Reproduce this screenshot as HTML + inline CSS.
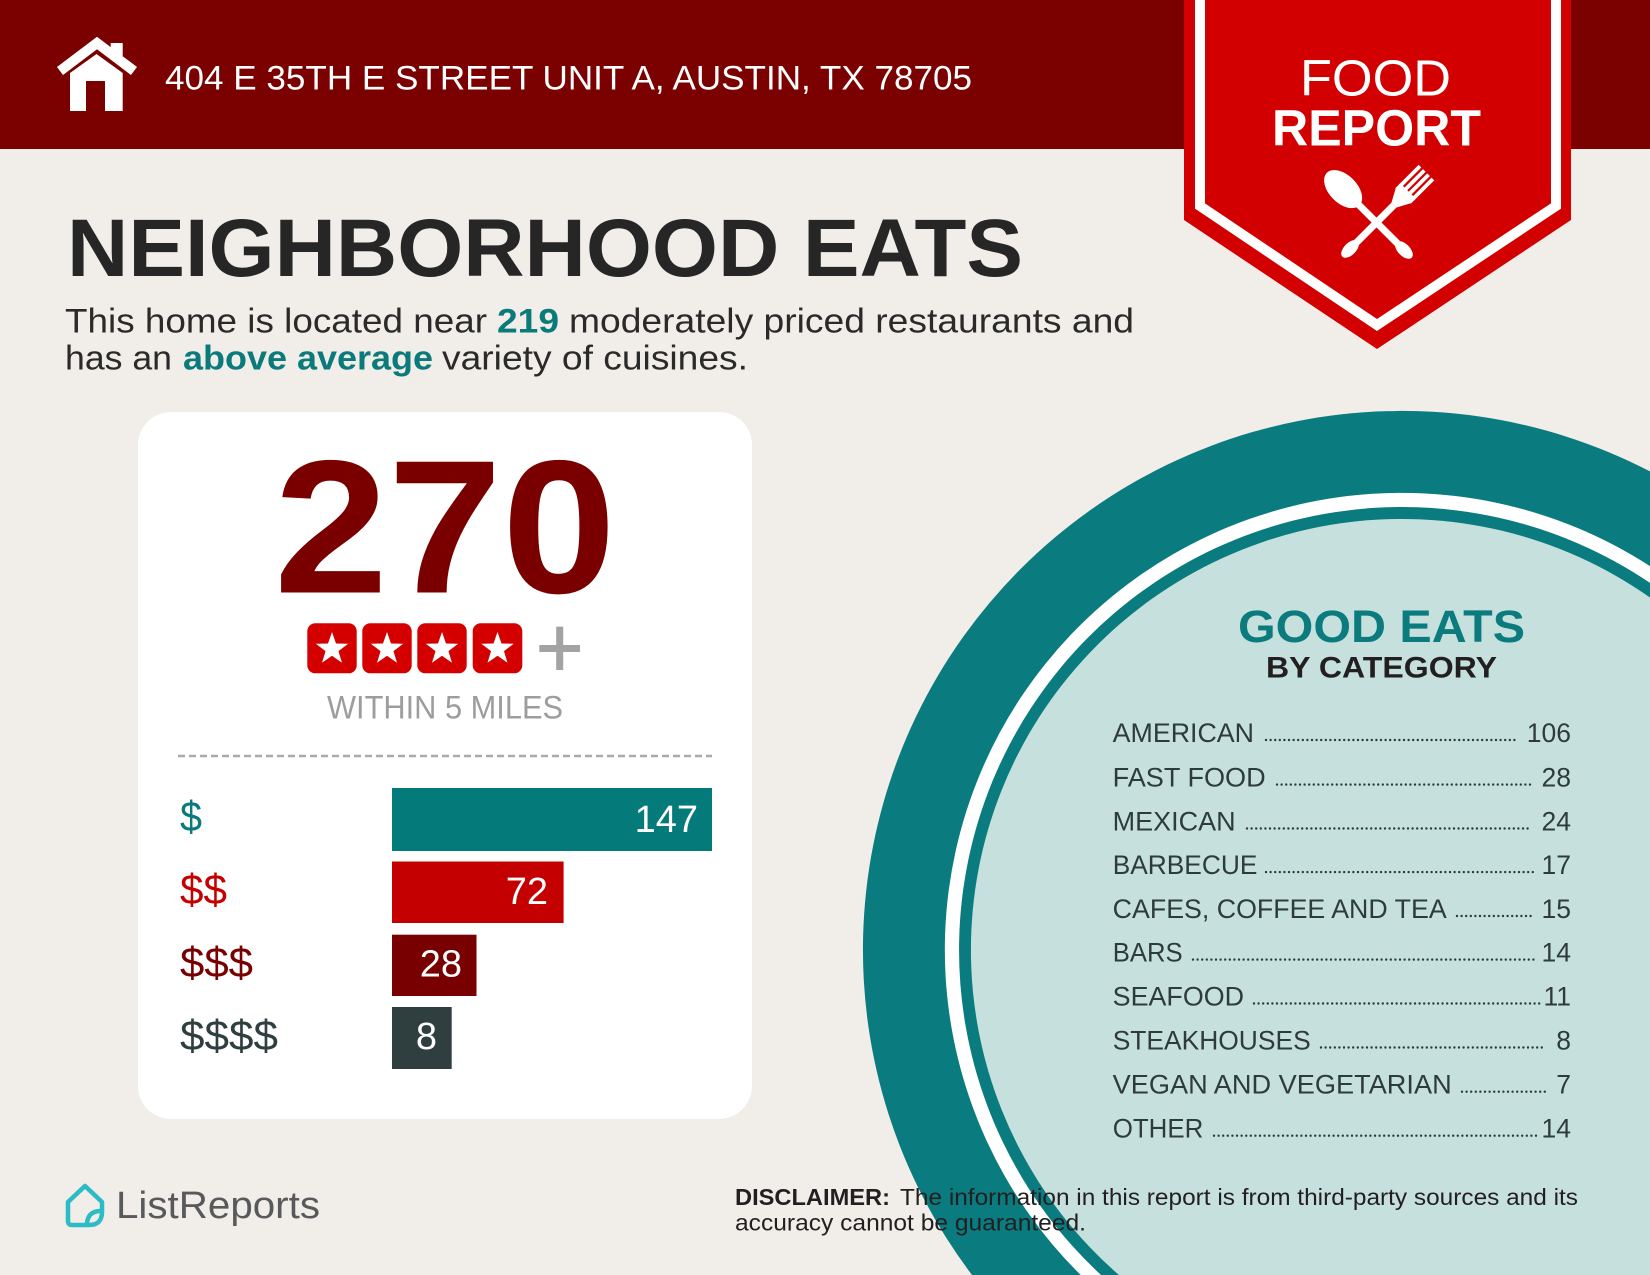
<!DOCTYPE html>
<html>
<head>
<meta charset="utf-8">
<style>
html,body{margin:0;padding:0;background:#f1ede9;width:1650px;height:1275px;overflow:hidden;}
svg{display:block;}
text{font-family:"Liberation Sans",sans-serif;}
</style>
</head>
<body>
<svg width="1650" height="1275" viewBox="0 0 1650 1275" xmlns="http://www.w3.org/2000/svg">
  <rect x="0" y="0" width="1650" height="1275" fill="#f1ede9"/>
  <!-- header band -->
  <rect x="0" y="0" width="1650" height="149" fill="#7b0000"/>
  <!-- house icon -->
  <polyline points="60,71 97,43 134,71" fill="none" stroke="#ffffff" stroke-width="10"/>
  <rect x="110.7" y="43" width="12" height="17" fill="#ffffff"/>
  <polygon points="70,111 70,73 96.5,54 122.7,73 122.7,111" fill="#ffffff"/>
  <rect x="86" y="81" width="19" height="30" fill="#7b0000"/>
  <text x="165" y="89.3" font-size="34" fill="#ffffff" textLength="807" lengthAdjust="spacingAndGlyphs">404 E 35TH E STREET UNIT A, AUSTIN, TX 78705</text>

  <!-- ribbon -->
  <polygon points="1184,0 1571,0 1571,220 1377,349 1184,220" fill="#d20000"/>
  <polyline points="1200,0 1200,206 1377,325 1556,206 1556,0" fill="none" stroke="#ffffff" stroke-width="10"/>
  <text x="1300" y="95.7" font-size="51" fill="#ffffff" textLength="151" lengthAdjust="spacingAndGlyphs">FOOD</text>
  <text x="1272" y="145.7" font-size="51" font-weight="bold" fill="#ffffff" textLength="209" lengthAdjust="spacingAndGlyphs">REPORT</text>
  <!-- fork -->
  <g transform="translate(1343,256) rotate(45)" fill="#ffffff">
    <rect x="-3.5" y="-72" width="7" height="64"/>
    <ellipse cx="0" cy="-10" rx="6" ry="11"/>
    <polygon points="-3.5,-72 3.5,-72 11,-86 -11,-86"/>
    <rect x="-11" y="-92" width="22" height="7"/>
    <rect x="-11" y="-118" width="3.8" height="28"/>
    <rect x="-4.9" y="-118" width="3.8" height="28"/>
    <rect x="1.1" y="-118" width="3.8" height="28"/>
    <rect x="7.2" y="-118" width="3.8" height="28"/>
  </g>
  <!-- spoon -->
  <g transform="translate(1411,257) rotate(-45)" fill="#ffffff">
    <rect x="-3.5" y="-74" width="7" height="66"/>
    <ellipse cx="0" cy="-10" rx="6" ry="11"/>
    <ellipse cx="0" cy="-96" rx="14" ry="23"/>
  </g>

  <!-- heading -->
  <text x="67" y="276" font-size="82" font-weight="bold" fill="#262626" textLength="956" lengthAdjust="spacingAndGlyphs">NEIGHBORHOOD EATS</text>
  <text x="65" y="332.7" font-size="34" fill="#2a2a2a" textLength="422" lengthAdjust="spacingAndGlyphs">This home is located near</text>
  <text x="497" y="332.7" font-size="34" font-weight="bold" fill="#0b7a7b" textLength="62" lengthAdjust="spacingAndGlyphs">219</text>
  <text x="569" y="332.7" font-size="34" fill="#2a2a2a" textLength="565" lengthAdjust="spacingAndGlyphs">moderately priced restaurants and</text>
  <text x="65" y="369.3" font-size="34" fill="#2a2a2a" textLength="107" lengthAdjust="spacingAndGlyphs">has an</text>
  <text x="183" y="369.3" font-size="34" font-weight="bold" fill="#0b7a7b" textLength="250" lengthAdjust="spacingAndGlyphs">above average</text>
  <text x="442" y="369.3" font-size="34" fill="#2a2a2a" textLength="306" lengthAdjust="spacingAndGlyphs">variety of cuisines.</text>

  <!-- card -->
  <rect x="138" y="412" width="614" height="707" rx="33" ry="33" fill="#ffffff"/>
  <text x="274" y="592.5" font-size="190" font-weight="bold" fill="#7a0000" textLength="342" lengthAdjust="spacingAndGlyphs">270</text>
  <!-- stars -->
  <g fill="#d40000">
    <rect x="307.3" y="623.3" width="49.4" height="50" rx="8"/>
    <rect x="362.3" y="623.3" width="49.4" height="50" rx="8"/>
    <rect x="417.3" y="623.3" width="49.4" height="50" rx="8"/>
    <rect x="472.7" y="623.3" width="49.6" height="50" rx="8"/>
  </g>
  <g fill="#ffffff">
    <path transform="translate(332,649)" d="M0,-17 L4,-5.5 L16.17,-5.25 L6.47,2.1 L9.99,13.75 L0,6.8 L-9.99,13.75 L-6.47,2.1 L-16.17,-5.25 L-4,-5.5 Z"/>
    <path transform="translate(387,649)" d="M0,-17 L4,-5.5 L16.17,-5.25 L6.47,2.1 L9.99,13.75 L0,6.8 L-9.99,13.75 L-6.47,2.1 L-16.17,-5.25 L-4,-5.5 Z"/>
    <path transform="translate(442,649)" d="M0,-17 L4,-5.5 L16.17,-5.25 L6.47,2.1 L9.99,13.75 L0,6.8 L-9.99,13.75 L-6.47,2.1 L-16.17,-5.25 L-4,-5.5 Z"/>
    <path transform="translate(497.5,649)" d="M0,-17 L4,-5.5 L16.17,-5.25 L6.47,2.1 L9.99,13.75 L0,6.8 L-9.99,13.75 L-6.47,2.1 L-16.17,-5.25 L-4,-5.5 Z"/>
  </g>
  <rect x="539.3" y="645" width="40.7" height="7" fill="#a3a3a3"/>
  <rect x="556.2" y="626.7" width="7" height="43.3" fill="#a3a3a3"/>
  <text x="327" y="718.5" font-size="32" fill="#9d9d9d" textLength="236" lengthAdjust="spacingAndGlyphs">WITHIN 5 MILES</text>
  <line x1="178" y1="756" x2="712" y2="756" stroke="#aaaaaa" stroke-width="2.5" stroke-dasharray="7 4"/>

  <!-- bars -->
  <rect x="392" y="788" width="320" height="63" fill="#047a7b"/>
  <rect x="392" y="861.5" width="171.6" height="61.5" fill="#c50000"/>
  <rect x="392" y="934.7" width="84.5" height="61.3" fill="#780000"/>
  <rect x="392" y="1007" width="59.7" height="62" fill="#2f3e3e"/>
  <text x="180" y="831" font-size="43" fill="#0b7a7b" textLength="22" lengthAdjust="spacingAndGlyphs">$</text>
  <text x="180" y="904" font-size="43" fill="#c50000" textLength="47" lengthAdjust="spacingAndGlyphs">$$</text>
  <text x="180" y="977" font-size="43" fill="#780000" textLength="73" lengthAdjust="spacingAndGlyphs">$$$</text>
  <text x="180" y="1050" font-size="43" fill="#2f3e3e" textLength="98" lengthAdjust="spacingAndGlyphs">$$$$</text>
  <text x="698" y="832" font-size="38" fill="#ffffff" text-anchor="end">147</text>
  <text x="548" y="904" font-size="38" fill="#ffffff" text-anchor="end">72</text>
  <text x="462" y="976.7" font-size="38" fill="#ffffff" text-anchor="end">28</text>
  <text x="437" y="1049" font-size="38" fill="#ffffff" text-anchor="end">8</text>

  <!-- circle (clipped to frame as paths) -->
  <path d="M972,1275 A539,539 0 0 1 1650,471.4 L1650,1275 Z" fill="#0a7b7e"/>
  <path d="M1080.7,1275 A457,457 0 0 1 1650,566.1 L1650,1275 Z" fill="#ffffff"/>
  <path d="M1101,1275 A443,443 0 0 1 1650,582.9 L1650,1275 Z" fill="#0a7b7e"/>
  <path d="M1118.9,1275 A431,431 0 0 1 1650,597.5 L1650,1275 Z" fill="#c6e0de"/>

  <text x="1238" y="641.8" font-size="45" font-weight="bold" fill="#0b7b7d" textLength="287" lengthAdjust="spacingAndGlyphs">GOOD EATS</text>
  <text x="1266" y="677.5" font-size="30" font-weight="bold" fill="#231f20" textLength="231" lengthAdjust="spacingAndGlyphs">BY CATEGORY</text>

  <g font-size="26.5" fill="#2e3b3b">
    <text x="1112.7" y="741.8" textLength="141.3" lengthAdjust="spacingAndGlyphs">AMERICAN</text>
    <text x="1112.7" y="786.4" textLength="153" lengthAdjust="spacingAndGlyphs">FAST FOOD</text>
    <text x="1112.7" y="830.3" textLength="123" lengthAdjust="spacingAndGlyphs">MEXICAN</text>
    <text x="1112.7" y="873.9" textLength="144.7" lengthAdjust="spacingAndGlyphs">BARBECUE</text>
    <text x="1112.7" y="917.8" textLength="334" lengthAdjust="spacingAndGlyphs">CAFES, COFFEE AND TEA</text>
    <text x="1112.7" y="961.4" textLength="70" lengthAdjust="spacingAndGlyphs">BARS</text>
    <text x="1112.7" y="1005.3" textLength="131.3" lengthAdjust="spacingAndGlyphs">SEAFOOD</text>
    <text x="1112.7" y="1049.3" textLength="198" lengthAdjust="spacingAndGlyphs">STEAKHOUSES</text>
    <text x="1112.7" y="1093.5" textLength="339" lengthAdjust="spacingAndGlyphs">VEGAN AND VEGETARIAN</text>
    <text x="1112.7" y="1137.5" textLength="90.7" lengthAdjust="spacingAndGlyphs">OTHER</text>
    <text x="1571" y="741.8" text-anchor="end">106</text>
    <text x="1571" y="786.4" text-anchor="end">28</text>
    <text x="1571" y="830.3" text-anchor="end">24</text>
    <text x="1571" y="873.9" text-anchor="end">17</text>
    <text x="1571" y="917.8" text-anchor="end">15</text>
    <text x="1571" y="961.4" text-anchor="end">14</text>
    <text x="1571" y="1005.3" text-anchor="end">11</text>
    <text x="1571" y="1049.3" text-anchor="end">8</text>
    <text x="1571" y="1093.5" text-anchor="end">7</text>
    <text x="1571" y="1137.5" text-anchor="end">14</text>
  </g>
  <g stroke="#2e3b3b" stroke-width="2.4" stroke-linecap="round" stroke-dasharray="0 4.6">
    <line x1="1266" y1="740" x2="1518" y2="740"/>
    <line x1="1277" y1="784.6" x2="1531" y2="784.6"/>
    <line x1="1247" y1="828.5" x2="1531" y2="828.5"/>
    <line x1="1266" y1="872.1" x2="1537" y2="872.1"/>
    <line x1="1457" y1="916" x2="1533" y2="916"/>
    <line x1="1193" y1="959.6" x2="1537" y2="959.6"/>
    <line x1="1254" y1="1003.5" x2="1543" y2="1003.5"/>
    <line x1="1321" y1="1047.5" x2="1544" y2="1047.5"/>
    <line x1="1462" y1="1091.7" x2="1548" y2="1091.7"/>
    <line x1="1214" y1="1135.7" x2="1537" y2="1135.7"/>
  </g>

  <!-- disclaimer -->
  <text x="735" y="1205" font-size="23" font-weight="bold" fill="#231f20" textLength="155" lengthAdjust="spacingAndGlyphs">DISCLAIMER:</text>
  <text x="900" y="1205" font-size="23" fill="#231f20" textLength="678" lengthAdjust="spacingAndGlyphs">The information in this report is from third-party sources and its</text>
  <text x="735" y="1230.7" font-size="23" fill="#231f20" textLength="351" lengthAdjust="spacingAndGlyphs">accuracy cannot be guaranteed.</text>

  <!-- ListReports logo -->
  <g fill="none" stroke="#2bbcc6" stroke-width="4.5" stroke-linejoin="round">
    <path d="M68,1202 L85,1186 L102,1202 L102,1212 Q102,1225 89,1225 L72,1225 Q68,1225 68,1221 Z"/>
    <path d="M87,1225 Q87,1211 101,1211"/>
  </g>
  <text x="116" y="1218" font-size="38" fill="#58595b" textLength="204" lengthAdjust="spacingAndGlyphs">ListReports</text>
</svg>
</body>
</html>
